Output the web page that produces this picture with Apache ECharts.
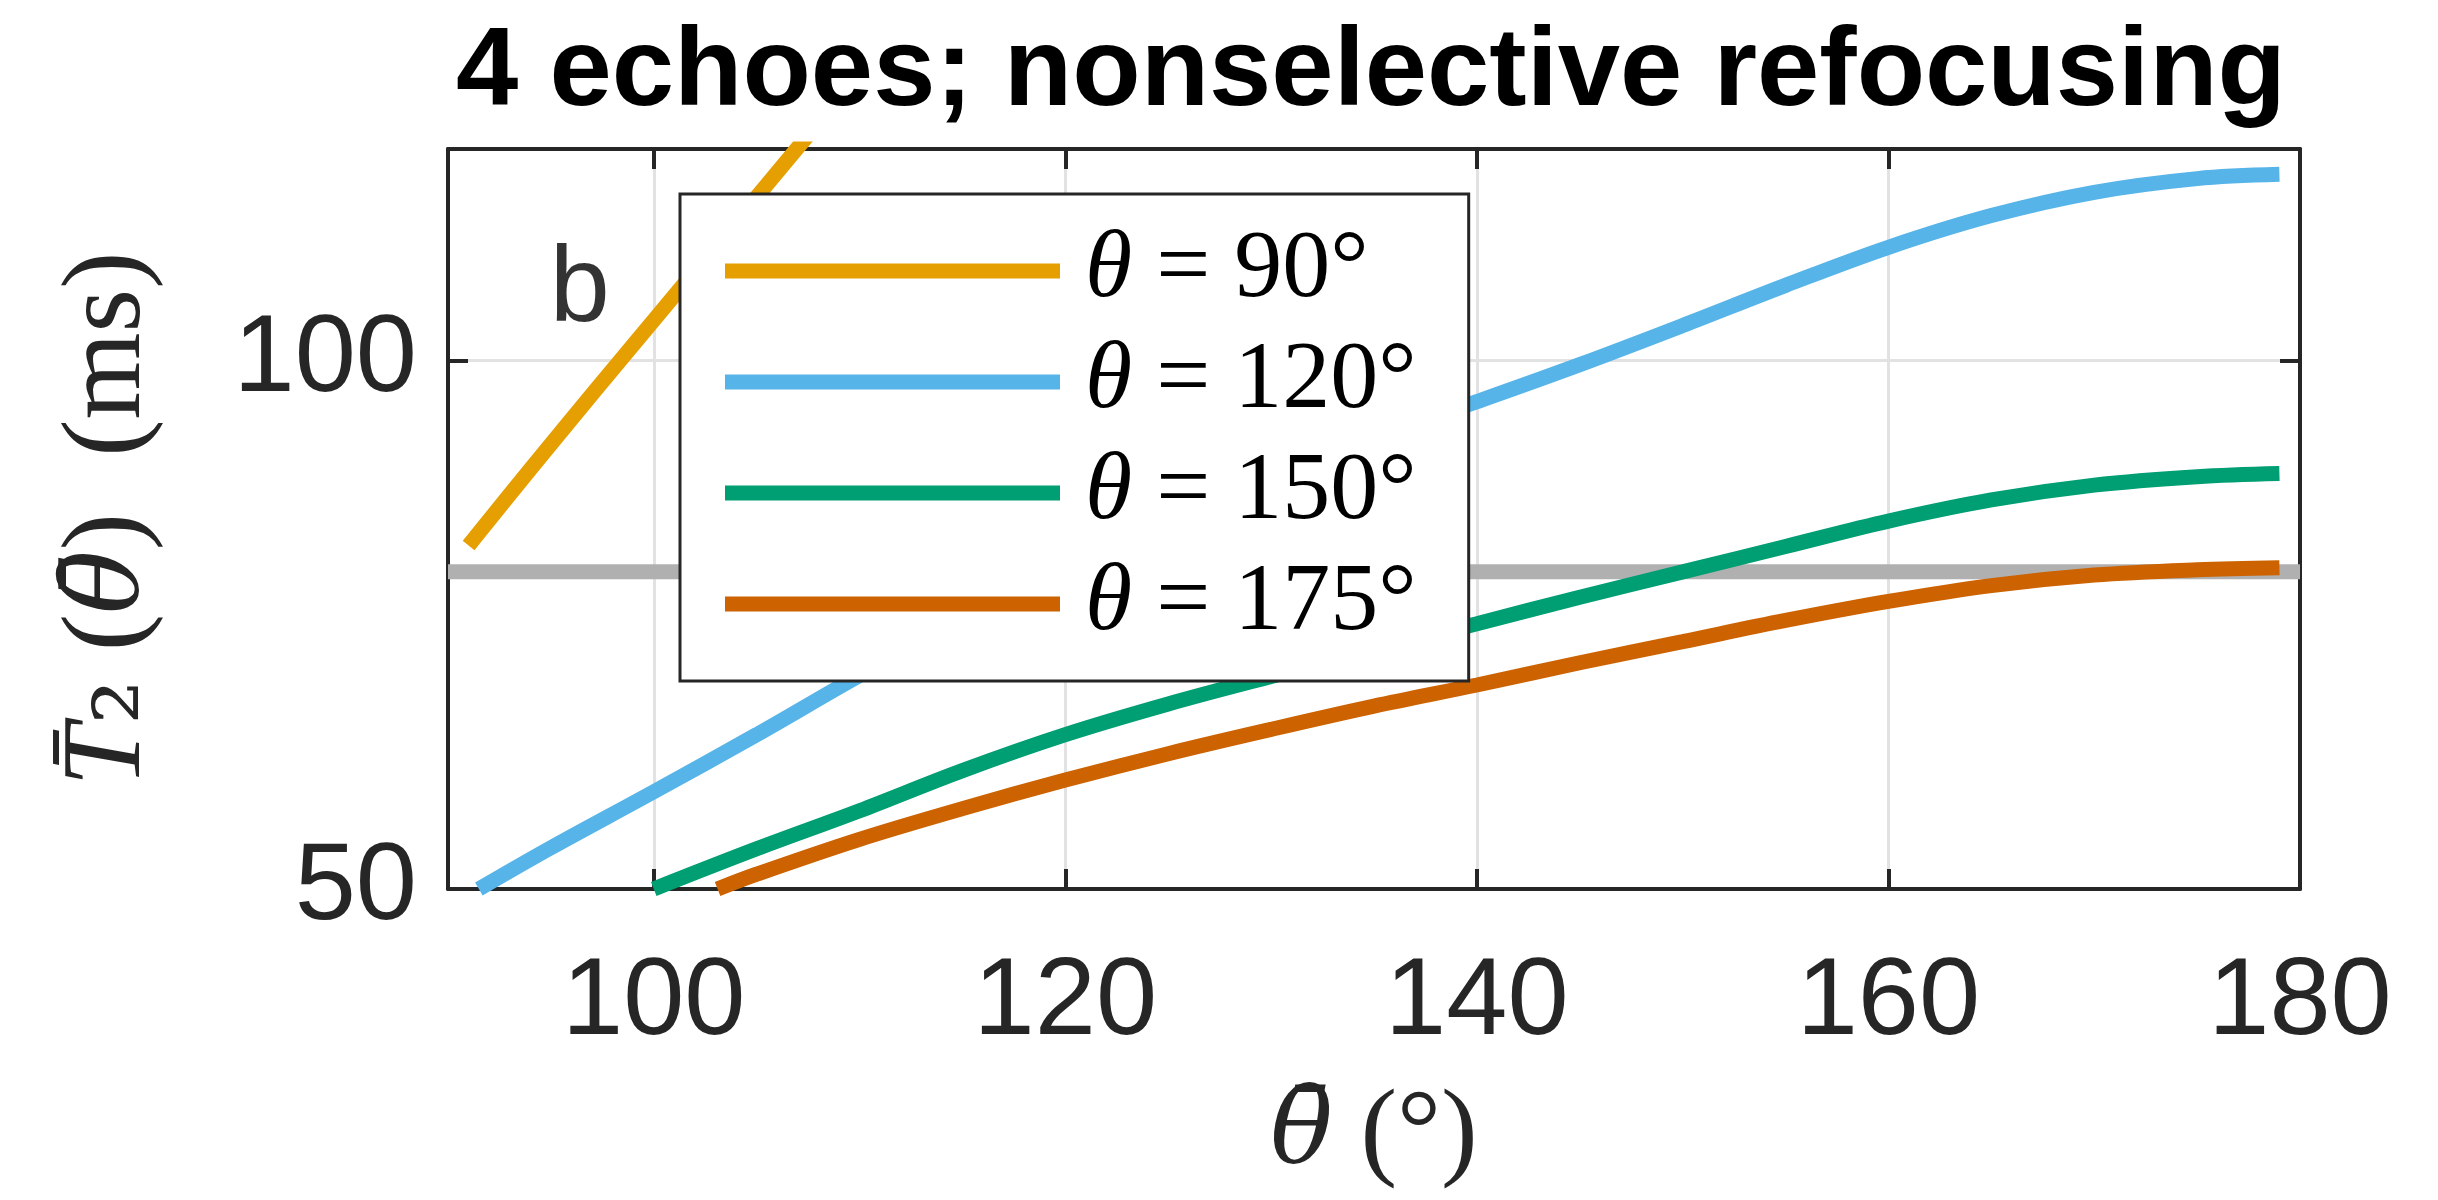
<!DOCTYPE html>
<html>
<head>
<meta charset="utf-8">
<script src="https://cdn.jsdelivr.net/npm/echarts@6/dist/echarts.min.js"></script>
<style>
  html, body { margin: 0; padding: 0; background: #ffffff; }
  #chart { width: 2438px; height: 1200px; }
</style>
</head>
<body>
<div id="chart"></div>
<script>
// ---- data ----
const titleText = '4 echoes; nonselective refocusing';
const seriesNames = ['θ = 90°', 'θ = 120°', 'θ = 150°', 'θ = 175°'];
const seriesColors = ['#E69F00', '#56B4E9', '#009E73', '#CC6300'];

const theta90X  = [91, 94, 97, 100, 103, 106, 107.5];
const theta90Y  = [82.5, 89.7, 96.8, 103.8, 110.8, 117.8, 121.3];

const theta120X = [91.5, 95, 100, 105, 110, 115, 120, 125, 130, 135, 140, 145, 150, 155, 160, 165, 170, 175, 179];
const theta120Y = [50, 53.9, 59.2, 64.6, 70.2, 75.5, 80.4, 84.9, 89.0, 92.7, 96.1, 99.6, 103.3, 107.1, 110.7, 113.7, 115.9, 117.2, 117.6];

const theta150X = [100, 105, 110, 115, 120, 125, 130, 135, 140, 145, 150, 155, 160, 165, 170, 175, 179];
const theta150Y = [50, 53.8, 57.4, 61.2, 64.6, 67.5, 70.1, 72.6, 75.1, 77.6, 80.0, 82.4, 84.8, 86.8, 88.2, 89.0, 89.3];

const theta175X = [103.1, 105, 110, 115, 120, 125, 130, 135, 140, 145, 150, 155, 160, 165, 170, 175, 179];
const theta175Y = [50, 51.4, 54.7, 57.6, 60.3, 62.8, 65.1, 67.3, 69.3, 71.4, 73.4, 75.4, 77.2, 78.7, 79.7, 80.2, 80.4];

const refLineX = [90, 180];
const refLineY = [80, 80];

const xTicks = [100, 120, 140, 160, 180];
const yTicks = [50, 100];
const xRange = [90, 180];
const yRange = [50, 120];

const panelLabel = 'b';
const panelLabelPos = [96.4, 106.5];

// ---- build ----
function pairs(xs, ys) { return xs.map((x, i) => [x, ys[i]]); }
const curveX = [theta90X, theta120X, theta150X, theta175X];
const curveY = [theta90Y, theta120Y, theta150Y, theta175Y];

const AX = '#262626';
const axisLineStyle = { color: AX, width: 4 };
const tickStyle = { color: AX, width: 4 };
const gridLine = { color: '#e2e2e2', width: 3 };
const sans = '"Liberation Sans", Arial, Helvetica, sans-serif';
const serif = '"Liberation Serif", "DejaVu Serif", serif';
const serifBar = '"DejaVu Serif", serif';

const chart = echarts.init(document.getElementById('chart'), null, { renderer: 'canvas' });

const series = [];
series.push({
  name: 'ref',
  type: 'line',
  data: pairs(refLineX, refLineY),
  showSymbol: false,
  symbol: 'none',
  silent: true,
  lineStyle: { color: '#B0B0B0', width: 15 },
  z: 2
});
curveX.forEach((xs, i) => {
  series.push({
    name: seriesNames[i],
    type: 'line',
    data: pairs(xs, curveY[i]),
    smooth: 0.35,
    symbol: 'none',
    showSymbol: false,
    clip: true,
    color: seriesColors[i],
    lineStyle: { color: seriesColors[i], width: 15, cap: 'butt' },
    z: 3
  });
});
series.push({
  name: 'panel',
  type: 'scatter',
  data: [panelLabelPos],
  symbolSize: 0,
  silent: true,
  label: {
    show: true,
    position: 'inside',
    formatter: panelLabel,
    fontSize: 108,
    fontFamily: sans,
    color: '#000000'
  },
  z: 4
});

const option = {
  backgroundColor: '#ffffff',
  animation: false,
  title: {
    text: titleText,
    left: 1366,
    textAlign: 'center',
    top: 13,
    textStyle: { fontSize: 112, fontWeight: 'bold', fontFamily: sans, color: '#000000' }
  },
  grid: { left: 448, right: 138, top: 149, bottom: 311, containLabel: false },
  legend: {
    data: seriesNames,
    orient: 'vertical',
    left: 680,
    top: 194,
    backgroundColor: '#ffffff',
    borderColor: AX,
    borderWidth: 3,
    borderRadius: 0,
    padding: [29, 52, 29, 45],
    itemWidth: 335,
    itemHeight: 15,
    itemGap: 15,
    icon: 'rect',
    selectedMode: false,
    z: 10,
    formatter: function (name) {
      const rest = name.replace('θ', '');
      return '{it|θ}{n|' + rest + '}';
    },
    textStyle: {
      padding: [0, 0, 0, 20],
      fontSize: 96,
      lineHeight: 92,
      fontFamily: serif,
      color: '#000000',
      rich: {
        it: { fontStyle: 'italic', fontSize: 96, lineHeight: 92, fontFamily: serif, color: '#000000' },
        n: { fontSize: 96, lineHeight: 92, fontFamily: serif, color: '#000000' }
      }
    }
  },
  xAxis: [
    {
      type: 'value',
      position: 'bottom',
      min: xRange[0],
      max: xRange[1],
      axisLine: { show: true, onZero: false, lineStyle: axisLineStyle },
      axisTick: { show: true, inside: true, length: 20, lineStyle: tickStyle, customValues: xTicks },
      axisLabel: { show: true, customValues: xTicks, fontSize: 110, fontFamily: sans, color: AX, margin: 60 },
      splitLine: { show: true, lineStyle: gridLine },
      name: '{bar|θ̄}{n| (°)}',
      nameLocation: 'middle',
      nameGap: 192,
      nameTextStyle: {
        fontSize: 110,
        fontFamily: serif,
        color: AX,
        rich: {
          bar: { fontStyle: 'italic', fontSize: 104, fontFamily: serifBar, color: AX },
          n: { fontSize: 110, fontFamily: serif, color: AX }
        }
      }
    },
    {
      type: 'value',
      position: 'top',
      min: xRange[0],
      max: xRange[1],
      axisLine: { show: true, onZero: false, lineStyle: axisLineStyle },
      axisTick: { show: true, inside: true, length: 20, lineStyle: tickStyle, customValues: xTicks },
      axisLabel: { show: false },
      splitLine: { show: false }
    }
  ],
  yAxis: [
    {
      type: 'value',
      position: 'left',
      min: yRange[0],
      max: yRange[1],
      axisLine: { show: true, onZero: false, lineStyle: axisLineStyle },
      axisTick: { show: true, inside: true, length: 20, lineStyle: tickStyle, customValues: yTicks },
      axisLabel: { show: true, customValues: yTicks, fontSize: 110, fontFamily: sans, color: AX, margin: 31 },
      splitLine: { show: true, lineStyle: gridLine },
      name: '{it|T̄}{sub|₂}{n| (}{bar|θ̄}{n|)  (ms)}',
      nameLocation: 'middle',
      nameRotate: 90,
      nameGap: 282,
      nameTextStyle: {
        fontSize: 112,
        fontFamily: serif,
        color: AX,
        rich: {
          it: { fontStyle: 'italic', fontSize: 112, fontFamily: serif, color: AX },
          bar: { fontStyle: 'italic', fontSize: 106, fontFamily: serifBar, color: AX },
          n: { fontSize: 112, fontFamily: serif, color: AX },
          sub: { fontSize: 112, fontFamily: serifBar, color: AX }
        }
      }
    },
    {
      type: 'value',
      position: 'right',
      min: yRange[0],
      max: yRange[1],
      axisLine: { show: true, onZero: false, lineStyle: axisLineStyle },
      axisTick: { show: true, inside: true, length: 20, lineStyle: tickStyle, customValues: yTicks },
      axisLabel: { show: false },
      splitLine: { show: false }
    }
  ],
  series: series
};

chart.setOption(option);
</script>
</body>
</html>
